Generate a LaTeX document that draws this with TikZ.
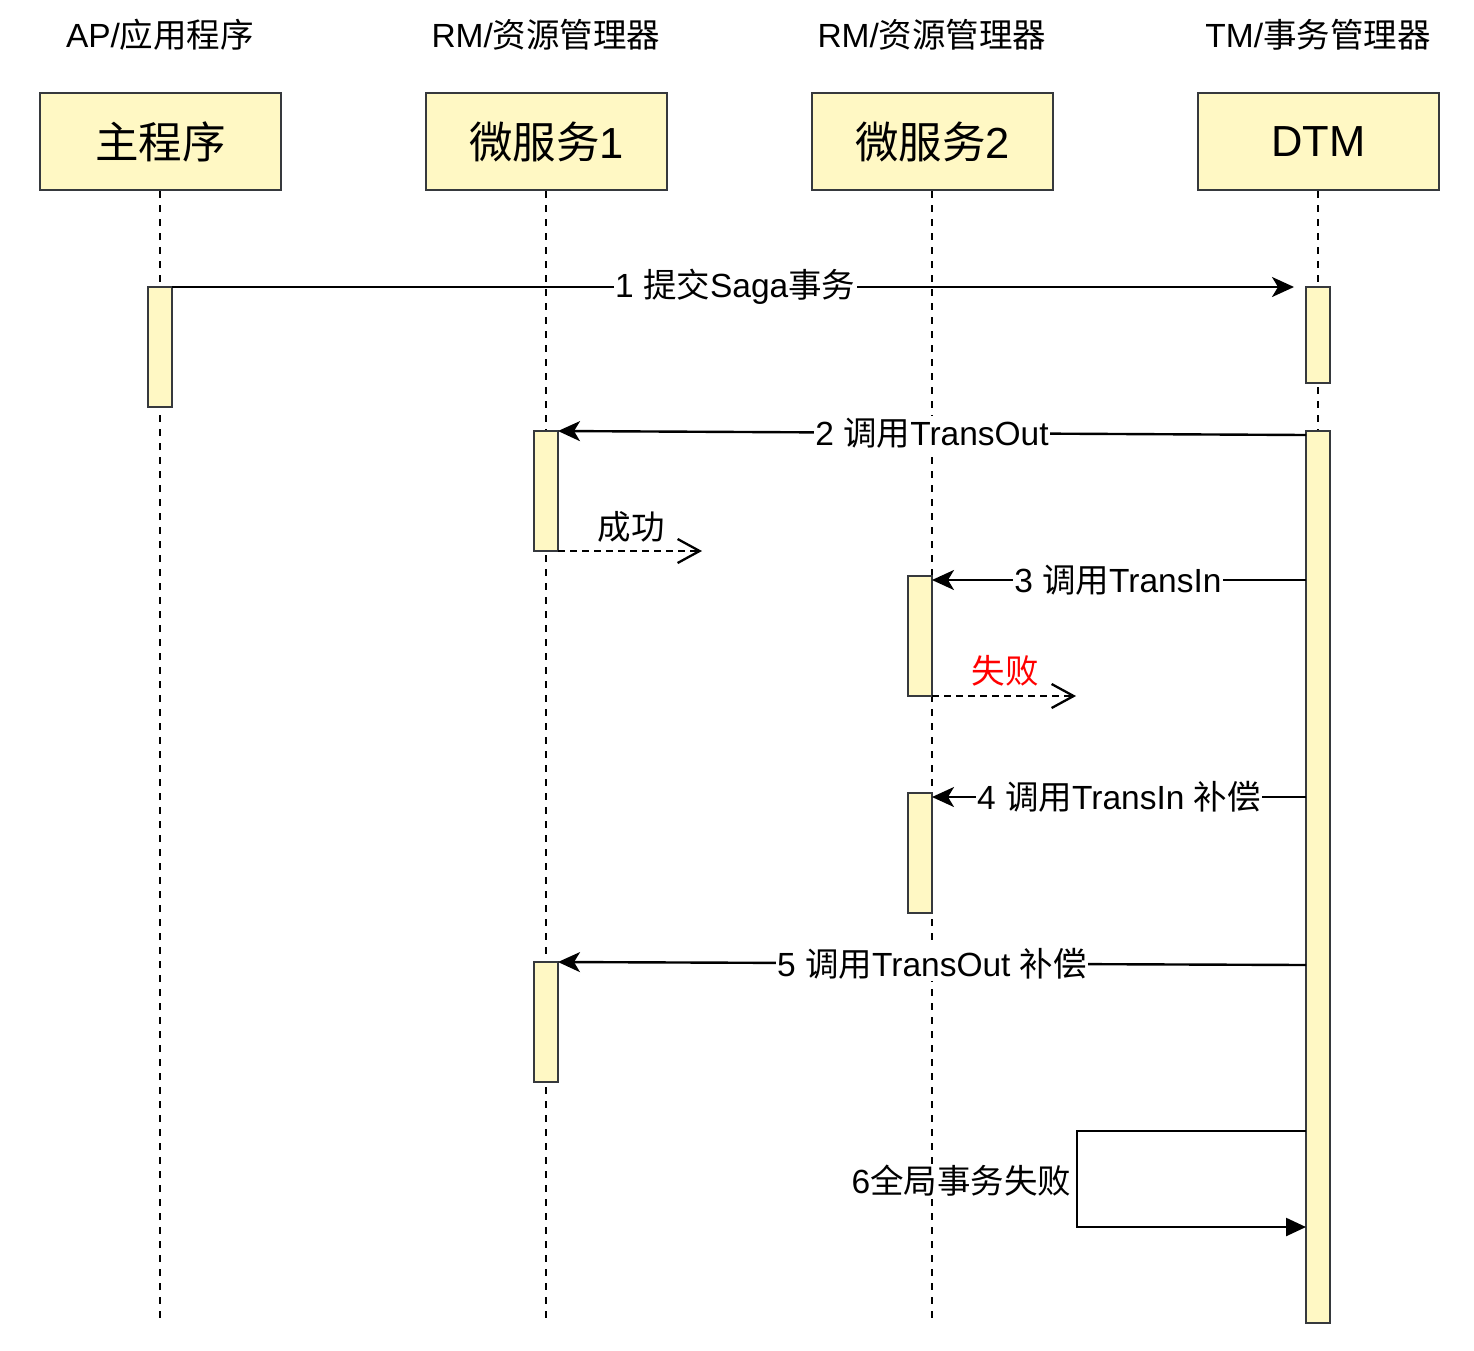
\documentclass[tikz,border=0pt]{standalone}
\usepackage{fontspec}
\setmainfont{Liberation Sans}
\newfontfamily\cjk{Noto Sans CJK SC}
\usetikzlibrary{arrows.meta}
\definecolor{barfill}{HTML}{FFF8C4}
\definecolor{edgec}{HTML}{36393D}
\definecolor{failred}{HTML}{FF0000}
\begin{document}
\begin{tikzpicture}[x=1pt,y=-1pt,
  head/.style={font=\fontsize{33.5}{40}\selectfont, text=black, inner sep=0pt},
  actor/.style={draw=edgec, fill=barfill, line width=2.8pt, minimum width=241pt, minimum height=97pt, font=\fontsize{43.5}{52}\selectfont, inner sep=0pt},
  lifeline/.style={draw=black, line width=2.3pt, dash pattern=on 7pt off 7pt},
  actbar/.style={draw=edgec, fill=barfill, line width=2.8pt, minimum width=24pt, inner sep=0pt},
  msg/.style={draw=black, line width=2.4pt, -{Stealth[length=22pt,width=20pt,inset=6pt]}},
  selfmsg/.style={draw=black, line width=2.4pt, -{Triangle[length=20pt,width=18pt]}},
  lbl/.style={fill=white, inner sep=1.5pt, font=\fontsize{33.5}{40}\selectfont, text=black},
  ret/.style={draw=black, line width=2.3pt, dash pattern=on 7pt off 5pt, -{Straight Barb[length=22pt,width=24pt]}},
  retlbl/.style={inner sep=0pt, font=\fontsize{33.5}{40}\selectfont}
]
\path[fill=white] (0,0) rectangle (1474,1350);
\useasboundingbox (0,0) rectangle (1474,1350);

% headings
\node[head] (h1) at (160,35) {AP/{\cjk 应用程序}};
\node[head] (h2) at (546,35) {RM/{\cjk 资源管理器}};
\node[head] (h3) at (932,35) {RM/{\cjk 资源管理器}};
\node[head] (h4) at (1318,35) {TM/{\cjk 事务管理器}};

% actor boxes
\node[actor] (ap) at (160.5,141.5) {\cjk 主程序};
\node[actor] (ms1) at (546.5,141.5) {{\cjk 微服务}1};
\node[actor] (ms2) at (932.5,141.5) {{\cjk 微服务}2};
\node[actor] (dtm) at (1318.5,141.5) {DTM};

% lifelines
\coordinate (apend) at (160,1325);
\coordinate (ms1end) at (546,1325);
\coordinate (ms2end) at (932,1325);
\coordinate (dtmend) at (1318,1325);
\draw[lifeline] (ap.south -| apend) -- (apend);
\draw[lifeline] (ms1.south -| ms1end) -- (ms1end);
\draw[lifeline] (ms2.south -| ms2end) -- (ms2end);
\draw[lifeline] (dtm.south -| dtmend) -- (dtmend);

% activation bars
\node[actbar, minimum height=120pt] (ap1) at (160,347) {};
\node[actbar, minimum height=120pt] (ms1a) at (546,491) {};
\node[actbar, minimum height=120pt] (ms2a) at (920,636) {};
\node[actbar, minimum height=120pt] (ms2b) at (920,853) {};
\node[actbar, minimum height=120pt] (ms1b) at (546,1022) {};
\node[actbar, minimum height=96pt] (dtm1) at (1318,335) {};
\node[actbar, minimum height=892pt] (dtm2) at (1318,877) {};

% message coordinates
\coordinate (m1s) at (172,287);
\coordinate (m1e) at (1294,287);
\coordinate (m2s) at (1306,435);
\coordinate (m2e) at (558,431);
\coordinate (m3s) at (1306,580);
\coordinate (m3e) at (932,580);
\coordinate (m4s) at (1306,797);
\coordinate (m4e) at (932,797);
\coordinate (m5s) at (1306,965);
\coordinate (m5e) at (558,962);
\coordinate (m6a) at (1306,1131);
\coordinate (m6b) at (1077,1131);
\coordinate (m6c) at (1077,1227);
\coordinate (m6d) at (1306,1227);
\coordinate (r1s) at (558,551);
\coordinate (r1e) at (702,551);
\coordinate (r2s) at (932,696);
\coordinate (r2e) at (1076,696);

% messages
\draw[msg] (m1s) -- (m1e) node[lbl, pos=0.502] (l1) {1 {\cjk 提交}Saga{\cjk 事务}};
\draw[msg] (m2s) -- (m2e) node[lbl, pos=0.5] (l2) {2 {\cjk 调用}TransOut};
\draw[msg] (m3s) -- (m3e) node[lbl, pos=0.503] (l3) {3 {\cjk 调用}TransIn};
\draw[msg] (m4s) -- (m4e) node[lbl, pos=0.5] (l4) {4 {\cjk 调用}TransIn {\cjk 补偿}};
\draw[msg] (m5s) -- (m5e) node[lbl, pos=0.5] (l5) {5 {\cjk 调用}TransOut {\cjk 补偿}};
\draw[selfmsg] (m6a) -- (m6b) -- (m6c) -- (m6d);
\node[lbl, anchor=east] (l6) at (1073,1181) {6{\cjk 全局事务失败}};

% returns
\draw[ret] (r1s) -- (r1e);
\node[retlbl] (rl1) at (631,527) {\cjk 成功};
\draw[ret] (r2s) -- (r2e);
\node[retlbl, text=failred] (rl2) at (1005,671) {\cjk 失败};
\end{tikzpicture}
\end{document}
